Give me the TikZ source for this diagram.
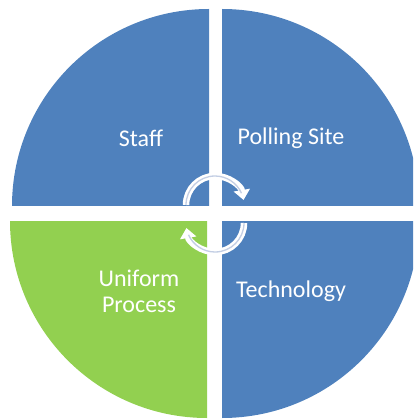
\documentclass[tikz,border=0pt]{standalone}
\usepackage{fontspec}
\setmainfont{Carlito}
\usetikzlibrary{arrows.meta}
\definecolor{qblue}{HTML}{4F81BD}
\definecolor{qgreen}{HTML}{92D050}
\definecolor{cycleline}{HTML}{C3CEE4}
\tikzset{
  quadlabel/.style={text=white, font=\fontsize{24}{26}\selectfont, align=center},
  cyclearrow/.style={white, line width=6.5pt, -{Triangle[width=16pt,length=10pt]}},
  cycleinner/.style={cycleline, line width=1.3pt},
}
\begin{document}
\begin{tikzpicture}[x=1pt,y=-1pt]
  \useasboundingbox (0,0) rectangle (413,419);
  \clip (0,0) rectangle (413,419);
  % four quarter discs, each around its own corner
  \fill[qblue]  (209,206) -- (12,206)  arc[start angle=180,end angle=270,radius=197] -- cycle;
  \fill[qblue]  (222,206) -- (222,9)   arc[start angle=270,end angle=360,radius=197] -- cycle;
  \fill[qblue]  (222,221) -- (419,221) arc[start angle=0,end angle=90,radius=197] -- cycle;
  \fill[qgreen] (207,221) -- (207,418) arc[start angle=90,end angle=180,radius=197] -- cycle;
  % labels
  \node[quadlabel] (staff)   at (141,138) {Staff};
  \node[quadlabel] (polling) at (291,138) {Polling Site};
  \node[quadlabel] (uniform) at (139,291) {Uniform\\Process};
  \node[quadlabel] (tech)    at (291,291) {Technology};
  % cycle arrows in the middle
  \draw[cyclearrow] (186,205) arc[start angle=180,end angle=350,radius=29];
  \draw[cycleinner] (186,205) arc[start angle=180,end angle=336,radius=29];
  \draw[cyclearrow] (244,223) arc[start angle=0,end angle=170,radius=29];
  \draw[cycleinner] (244,223) arc[start angle=0,end angle=156,radius=29];
\end{tikzpicture}
\end{document}
